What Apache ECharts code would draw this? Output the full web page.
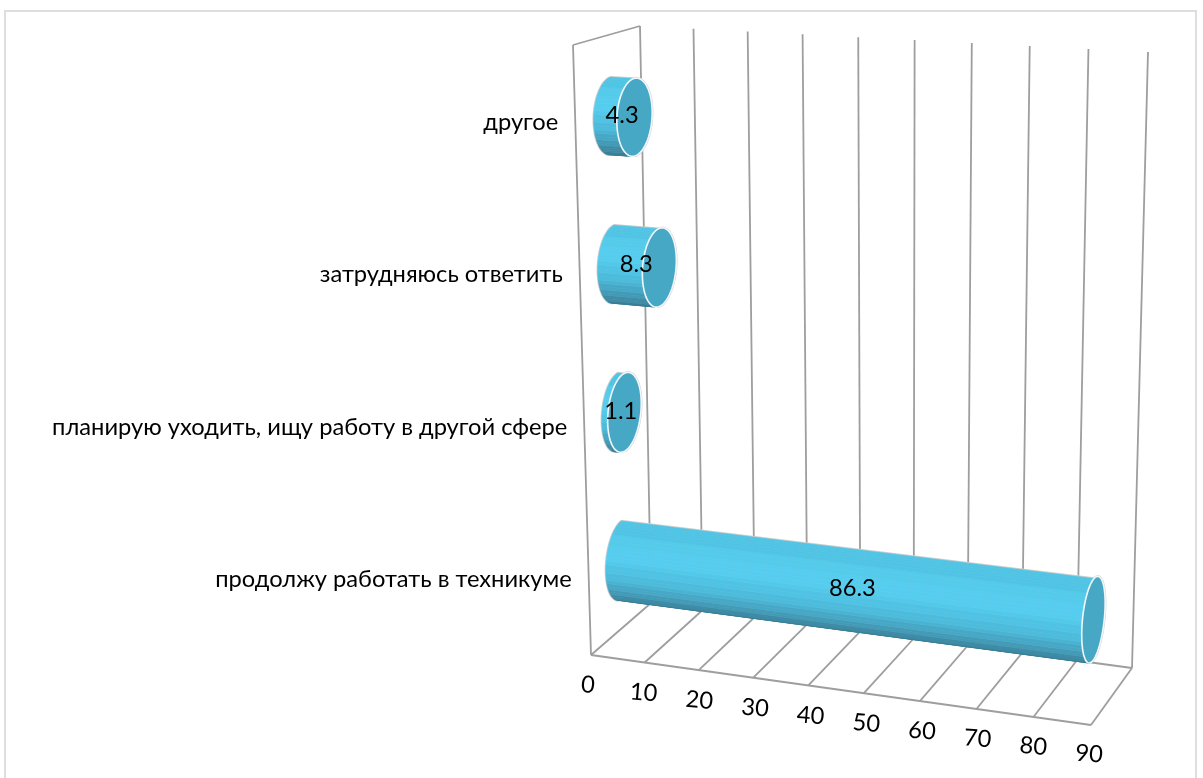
<!DOCTYPE html>
<html>
<head>
<meta charset="utf-8">
<title>chart</title>
<style>
html, body { margin: 0; padding: 0; background: #fff; }
#main { width: 1203px; height: 778px; }
</style>
<script src="https://cdn.jsdelivr.net/npm/echarts@6/dist/echarts.min.js"></script>
</head>
<body>
<div id="main"></div>
<script>
// bottom to top, the category axis counts upward
var categories = ['продолжу работать в техникуме', 'планирую уходить, ищу работу в другой сфере', 'затрудняюсь ответить', 'другое'];
var values = [86.3, 1.1, 8.3, 4.3];
var xTicks = [0, 10, 20, 30, 40, 50, 60, 70, 80, 90];

var FONT = 'Lato, Carlito, "Noto Sans", sans-serif';
var LINE = '#9e9e9e';
// cylinder shading from bottom (s=-1) to top (s=1)
var bands = ['#3a7d96', '#3e8ba6', '#429ab6', '#46a8c6', '#4ab3d2', '#4dbcdc', '#50c3e4', '#53c9ea', '#56cdee', '#56cdee', '#54cbeb', '#50c4e4'];

// box corners on screen: floor plane and top plane of the 3D view
var floorBox = [[591, 655], [1091, 725], [1132, 668], [651, 603]];
var topBox = [[573, 45], [1092, 73], [1148, 52], [640, 26]];

function planeMap(q) {
    var p00 = q[0], p10 = q[1], p11 = q[2], p01 = q[3];
    var dx1 = p10[0] - p11[0], dx2 = p01[0] - p11[0], sx = p00[0] - p10[0] + p11[0] - p01[0];
    var dy1 = p10[1] - p11[1], dy2 = p01[1] - p11[1], sy = p00[1] - p10[1] + p11[1] - p01[1];
    var det = dx1 * dy2 - dx2 * dy1;
    var g = (sx * dy2 - dx2 * sy) / det, k = (dx1 * sy - sx * dy1) / det;
    return function (u, d) {
        var w = 1 + g * u + k * d;
        return [
            (p00[0] + (p10[0] * (1 + g) - p00[0]) * u + (p01[0] * (1 + k) - p00[0]) * d) / w,
            (p00[1] + (p10[1] * (1 + g) - p00[1]) * u + (p01[1] * (1 + k) - p00[1]) * d) / w
        ];
    };
}
var floorMap = planeMap(floorBox), topMap = planeMap(topBox);

// u along the value axis, d into the depth, h up, all 0..1
function project(u, d, h) {
    var a = floorMap(u, d), b = topMap(u, d);
    return [a[0] + (b[0] - a[0]) * h, a[1] + (b[1] - a[1]) * h];
}

function toUnit(params, api, v, cat) {
    var c = api.coord([v, cat]);
    var r = params.coordSys;
    return [(c[0] - r.x) / r.width, (r.y + r.height - c[1]) / r.height];
}

function line(a, b) {
    return {
        type: 'line',
        shape: { x1: a[0], y1: a[1], x2: b[0], y2: b[1] },
        style: { stroke: LINE, lineWidth: 1.8, fill: null }
    };
}

function text(str, x, y, align, rot) {
    return {
        type: 'text',
        x: x,
        y: y,
        rotation: rot || 0,
        style: { text: str, x: 0, y: 0, fill: '#000', fontFamily: FONT, fontSize: 23.7, align: align, verticalAlign: 'middle' }
    };
}

// grid lines on the floor and the back wall, one tick per item
function renderTick(params, api) {
    var u = toUnit(params, api, api.value(0), 0)[0];
    var kids = [
        line(project(u, 1, 0), project(u, 1, 1)),
        line(project(u, 0, 0), project(u, 1, 0))
    ];
    if (params.dataIndex === 0) {
        kids.push(line(project(0, 0, 0), project(0, 0, 1)));
        kids.push(line(project(0, 0, 1), project(0, 1, 1)));
        kids.push(line(project(0, 0, 0), project(1, 0, 0)));
        kids.push(line(project(0, 1, 0), project(1, 1, 0)));
    }
    // tick labels run straight under the skewed edge
    kids.push(text(String(api.value(0)), 588 + 501 * u, 685 + 69 * u, 'center', -0.08));
    return { type: 'group', children: kids };
}

var DC = 0.54, RD = 0.27, RH = 0.065, DROP = 0.012;

function ringPoint(u, h, t) {
    return project(u, DC - RD * Math.cos(t), h + RH * Math.sin(t));
}

function renderBar(params, api) {
    var i = params.dataIndex;
    var p = toUnit(params, api, api.value(0), i);
    var u = p[0], h = p[1] - DROP;
    var kids = [];
    var N = 32, k, t;
    var outline = [];
    for (k = 0; k <= N; k++) {
        t = -Math.PI / 2 + Math.PI * k / N;
        outline.push(ringPoint(0, h, t));
    }
    for (k = 0; k <= N; k++) {
        t = Math.PI / 2 + Math.PI * k / N;
        outline.push(ringPoint(u, h, t));
    }
    kids.push({ type: 'polygon', shape: { points: outline }, style: { fill: '#d4d4d4', stroke: '#cfcfcf', lineWidth: 2.4 } });
    for (k = 0; k < N; k++) {
        var t0 = -Math.PI / 2 + Math.PI * k / N, t1 = -Math.PI / 2 + Math.PI * (k + 1) / N;
        var s = (Math.sin(t0) + Math.sin(t1)) / 2;
        var c = bands[Math.min(bands.length - 1, Math.floor((s + 1) / 2 * bands.length))];
        kids.push({
            type: 'polygon',
            shape: { points: [ringPoint(0, h, t0), ringPoint(0, h, t1), ringPoint(u, h, t1), ringPoint(u, h, t0)] },
            style: { fill: c, stroke: c, lineWidth: 0.6 }
        });
    }
    var cap = [];
    for (k = 0; k < 64; k++) {
        cap.push(ringPoint(u, h, 2 * Math.PI * k / 64));
    }
    kids.push({ type: 'polygon', shape: { points: cap }, style: { fill: '#47a8c5', stroke: '#f2f7f9', lineWidth: 1.6 } });
    return { type: 'group', children: kids };
}

function renderLabels(params, api) {
    var i = params.dataIndex;
    var v = api.value(0);
    var p = toUnit(params, api, v, i);
    var mid = toUnit(params, api, v / 2, i)[0];
    var c = project(mid, DC, p[1] - DROP);
    var edge = project(0, 0, p[1]);
    return {
        type: 'group',
        children: [
            text(String(v), c[0] - 1, c[1] - 1, 'center'),
            text(categories[i], edge[0] - 17, edge[1] + 1, 'right')
        ]
    };
}

var myChart = echarts.init(document.getElementById('main'));
var option = {
    animation: false,
    graphic: [{
        type: 'rect',
        silent: true,
        z: -1,
        shape: { x: 5, y: 11, width: 1191, height: 800 },
        style: { fill: '#fff', stroke: '#dedede', lineWidth: 2 }
    }],
    grid: { left: 100, right: 100, top: 100, bottom: 100 },
    xAxis: { type: 'value', min: 0, max: 90, interval: 10, show: false },
    yAxis: { type: 'category', data: categories, show: false },
    series: [
        { type: 'custom', coordinateSystem: 'cartesian2d', clip: false, silent: true, z: 2, data: xTicks, renderItem: renderTick, encode: { x: 0 } },
        { type: 'custom', coordinateSystem: 'cartesian2d', clip: false, silent: true, z: 3, data: values, renderItem: renderBar, encode: { x: 0 } },
        { type: 'custom', coordinateSystem: 'cartesian2d', clip: false, silent: true, z: 4, data: values, renderItem: renderLabels, encode: { x: 0 } }
    ]
};
myChart.setOption(option);
</script>
</body>
</html>
